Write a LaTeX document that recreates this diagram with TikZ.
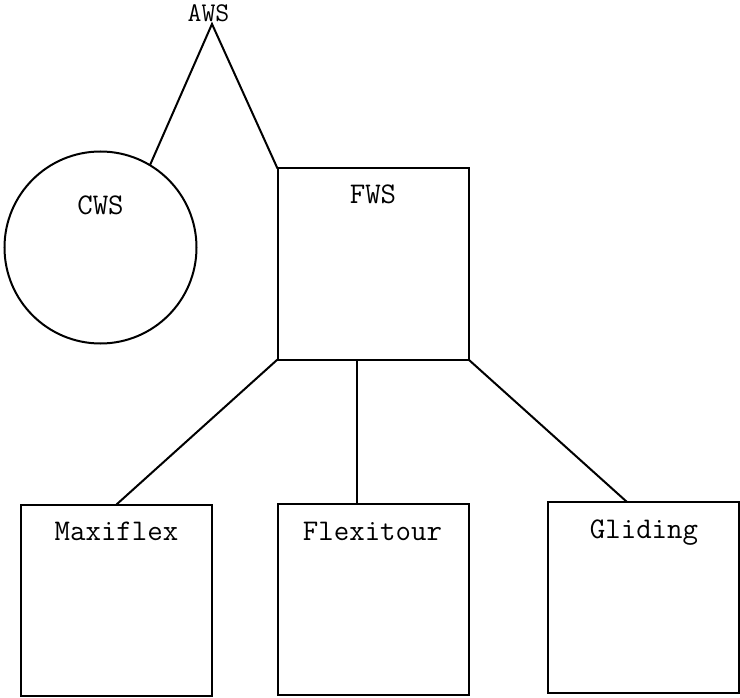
\documentclass[tikz,border=0pt]{standalone}
\begin{document}
\begin{tikzpicture}[x=1pt,y=-1pt,
  box/.style={draw,line width=2pt,minimum width=191pt,minimum height=191pt,inner sep=0pt,outer sep=0pt},
  circ/.style={draw,circle,line width=2pt,minimum size=192pt,inner sep=0pt,outer sep=0pt},
  lbl/.style={anchor=base,font=\ttfamily\fontsize{30}{32}\selectfont,inner sep=0pt,text height=17pt,text depth=4pt},
  conn/.style={line width=2pt}]
\useasboundingbox (0,0) rectangle (740,698);
\node[circ] (cws) at (100.5,247.5) {};
\node[box] (fws) at (373,264) {};
\node[box] (maxi) at (116.5,600) {};
\node[box] (flexi) at (373,599.5) {};
\node[box] (glid) at (643.5,597.5) {};
\node[lbl,font=\ttfamily\fontsize{27}{29}\selectfont,text height=15pt] (awsl) at (208.5,21.5) {AWS};
\node[lbl] (cwsl) at (100.5,214.5) {CWS};
\node[lbl] (fwsl) at (373,204) {FWS};
\node[lbl] (maxil) at (116.5,540) {Maxiflex};
\node[lbl] (flexil) at (372.5,540) {Flexitour};
\node[lbl] (glidl) at (644,538) {Gliding};
\coordinate (apex) at (212,24);
\coordinate (fwsmid) at (357,360);
\coordinate (glidtop) at (627,502);
\draw[conn] (cws.59) -- (apex) -- (fws.north west);
\draw[conn] (fws.south west) -- (maxi.north);
\draw[conn] (fwsmid) -- (fwsmid |- flexi.north);
\draw[conn] (fws.south east) -- (glidtop);
\end{tikzpicture}
\end{document}
